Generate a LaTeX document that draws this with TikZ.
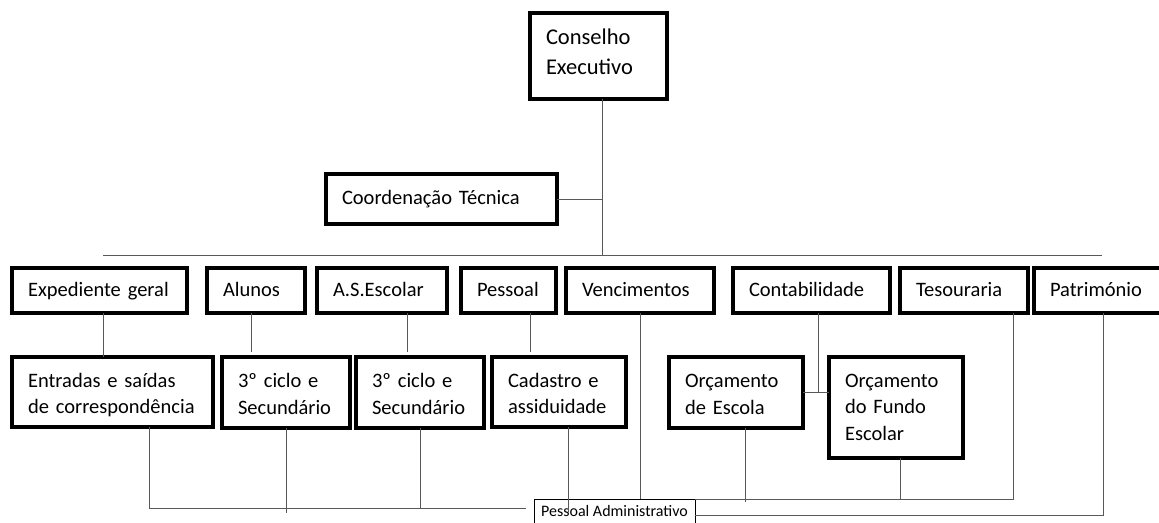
\documentclass[tikz,border=0pt]{standalone}
\usepackage{fontspec}
\setmainfont{Carlito}
\hyphenpenalty=10000
\exhyphenpenalty=10000
\definecolor{linkgray}{gray}{0.35}

\begin{document}
\begin{tikzpicture}[x=1pt, y=-1pt,
    unit/.style={draw, line width=3.2pt, anchor=north west, outer sep=0pt,
      inner xsep=16pt, inner ysep=0pt, align=left,
      font=\fontsize{20.5}{26.7}\selectfont},
    oneline/.style={unit, text height=15pt, text depth=4pt},
    twoline/.style={unit, text height=15pt, text depth=25pt},
    link/.style={draw=linkgray, line width=0.9pt}]
  \useasboundingbox (0,0) rectangle (1159,522);

  % top
  \node[unit, font=\fontsize{22.5}{30}\selectfont, text height=17pt, text depth=41pt,
        text width=105pt, minimum height=86pt] (conselho) at (530,13) {Conselho\\Executivo};
  \node[oneline, text width=199pt, minimum height=50pt] (coordenacao) at (326,174) {Coordenação Técnica};

  % first row
  \node[oneline, text width=143pt, minimum height=45pt] (expediente)    at (12,268)   {Expediente geral};
  \node[oneline, text width=66pt,  minimum height=45pt] (alunos)        at (207,268)  {Alunos};
  \node[oneline, text width=98pt,  minimum height=45pt] (asescolar)     at (317,268)  {A.S.Escolar};
  \node[oneline, text width=63pt,  minimum height=45pt] (pessoal)       at (461,268)  {Pessoal};
  \node[oneline, text width=116pt, minimum height=45pt] (vencimentos)   at (566,268)  {Vencimentos};
  \node[oneline, text width=125pt, minimum height=45pt] (contabilidade) at (733,268)  {Contabilidade};
  \node[oneline, text width=96pt,  minimum height=45pt] (tesouraria)    at (900,268)  {Tesouraria};
  \node[oneline, text width=98pt,  minimum height=45pt] (patrimonio)    at (1034,268) {Património};

  % second row
  \node[twoline, text width=169pt, minimum height=70pt] (entradas)  at (12,357)  {Entradas e saídas\\de correspondência};
  \node[twoline, text width=96pt,  minimum height=71pt] (ciclo1)    at (222,357) {3º ciclo e\\Secundário};
  \node[twoline, text width=96pt,  minimum height=71pt] (ciclo2)    at (356,357) {3º ciclo e\\Secundário};
  \node[twoline, text width=102pt, minimum height=70pt] (cadastro)  at (492,357) {Cadastro e\\assiduidade};
  \node[twoline, text width=102pt, minimum height=71pt] (orcEscola) at (669,357) {Orçamento\\de Escola};
  \node[unit, text height=15pt, text depth=56pt,
        text width=102pt, minimum height=101pt] (orcFundo) at (829,357) {Orçamento\\do Fundo\\Escolar};

  \node[draw, line width=0.8pt, anchor=north west, outer sep=0pt, inner sep=0pt,
        minimum width=161pt, minimum height=24pt,
        font=\fontsize{16}{19}\selectfont] (admin) at (534,499) {Pessoal Administrativo};

  % bus
  \coordinate (hub)  at (602,255);
  \coordinate (busL) at (103,255);
  \coordinate (busR) at (1102,255);
  \draw[link] (busL) -- (busR);
  \draw[link] (conselho.south -| hub) -- (hub);
  \draw[link] (coordenacao.east) -- (coordenacao.east -| hub);

  % first row to second row
  \draw[link] ([xshift=3.5pt]expediente.south) -- ([xshift=3.5pt]expediente.south |- entradas.north);
  \draw[link, shorten >=5pt] ([xshift=-5pt]alunos.south) -- ([xshift=-5pt]alunos.south |- ciclo1.north);
  \draw[link, shorten >=5pt] ([xshift=25pt]asescolar.south) -- ([xshift=25pt]asescolar.south |- ciclo2.north);
  \draw[link, shorten >=5pt] ([xshift=21.5pt]pessoal.south) -- ([xshift=21.5pt]pessoal.south |- cadastro.north);
  \draw[link] ([xshift=6.5pt]contabilidade.south) -- ([xshift=6.5pt]contabilidade.south |- orcEscola.east);
  \draw[link] (orcEscola.east) -- (orcFundo.west |- orcEscola.east);

  % down to Pessoal Administrativo
  \draw[link] ([xshift=36.5pt]entradas.south) |- ([xshift=-8pt, yshift=3pt]admin.west);
  \draw[link] (ciclo1.south) -- ++(0,85);
  \draw[link] (ciclo2.south) -- ++(0,80);
  \draw[link] ([xshift=9pt]cadastro.south) -- ++(0,85);
  \draw[link] (vencimentos.south) -- (vencimentos.south |- admin.north);
  \draw[link] ([xshift=9pt]orcEscola.south) -- ++(0,74);
  \draw[link] ([xshift=4pt]orcFundo.south) -- ([xshift=4pt]orcFundo.south |- admin.north);
  \draw[link] ([xshift=49pt]tesouraria.south) |- (admin.north east);
  \draw[link] ([xshift=4pt]patrimonio.south) |- ([yshift=-4pt]admin.east);
\end{tikzpicture}
\end{document}
